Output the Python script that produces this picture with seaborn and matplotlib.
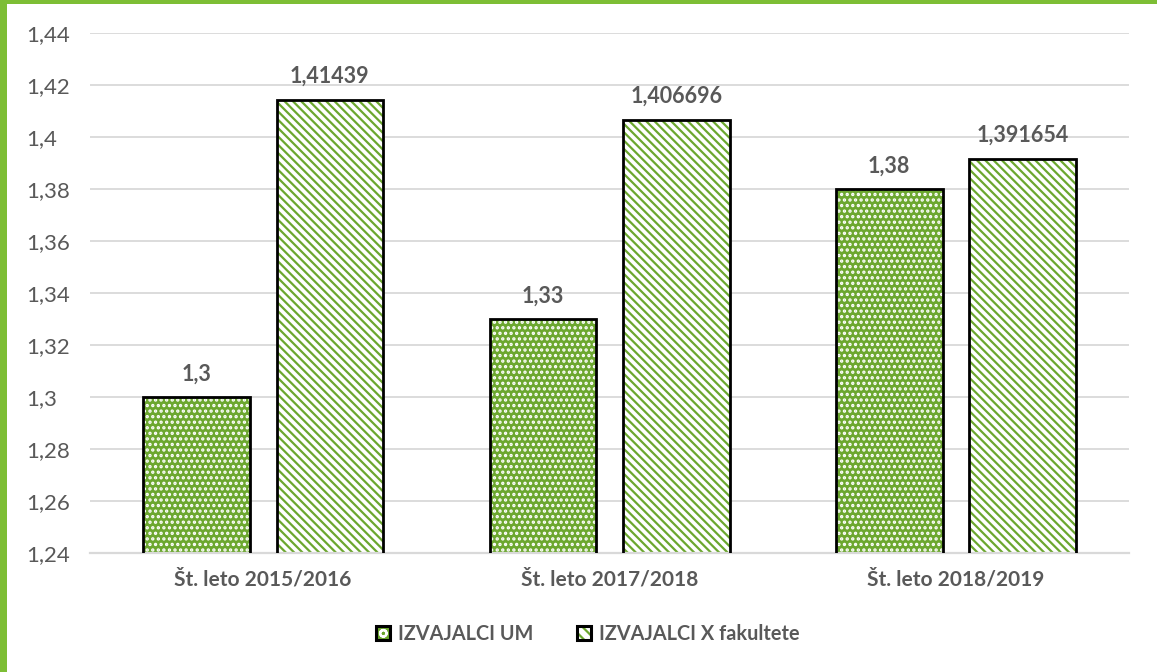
from matplotlib import pyplot as plt
from matplotlib.patches import Patch, Rectangle
import pandas as pd
import seaborn as sns

# data
leta = ["Št. leto 2015/2016", "Št. leto 2017/2018", "Št. leto 2018/2019"]
serije = ["IZVAJALCI UM", "IZVAJALCI X fakultete"]
izvajalci_um = [1.3, 1.33, 1.38]
izvajalci_fak = [1.41439, 1.406696, 1.391654]
y_ticks = [1.24, 1.26, 1.28, 1.30, 1.32, 1.34, 1.36, 1.38, 1.40, 1.42, 1.44]

GREEN = "#6CA72F"
BORDER = "#7DBE35"
TEXT = "#595959"
GRID = "#D9D9D9"

df = pd.DataFrame({
    "leto": leta * 2,
    "serija": [serije[0]] * 3 + [serije[1]] * 3,
    "vrednost": izvajalci_um + izvajalci_fak,
})


def fmt(v):
    # excel "general" format with decimal comma
    return str(round(v, 6)).replace(".", ",")


sns.set_theme(style="white")
plt.rcParams["font.family"] = ["Lato", "DejaVu Sans"]
plt.rcParams["hatch.linewidth"] = 1.6

fig, ax = plt.subplots(figsize=(11.57, 6.72), dpi=100)
fig.subplots_adjust(left=0.0778, right=0.9758, top=0.951, bottom=0.177)

sns.barplot(data=df, x="leto", y="vrednost", hue="serija", order=leta,
            hue_order=serije, palette=[GREEN, "white"], width=0.77, gap=0.2,
            legend=False, ax=ax, zorder=2)

styles = [
    dict(facecolor=GREEN, edgecolor="white", hatch="..."),
    dict(facecolor="white", edgecolor=GREEN, hatch="\\\\\\\\"),
]
for cont, st in zip(ax.containers, styles):
    for bar in cont:
        bar.set_facecolor(st["facecolor"])
        bar.set_edgecolor(st["edgecolor"])
        bar.set_hatch(st["hatch"])
        bar.set_linewidth(0)
        ax.add_patch(Rectangle(bar.get_xy(), bar.get_width(), bar.get_height(),
                               fill=False, edgecolor="black", linewidth=2.0, zorder=3))
    ax.bar_label(cont, labels=[fmt(b.get_height()) for b in cont], padding=9,
                 fontsize=15.5, fontweight="bold", color=TEXT)

ax.set_ylim(1.24, 1.44)
ax.set_yticks(y_ticks)
ax.set_yticklabels([fmt(v) for v in y_ticks])
ax.grid(axis="y", color=GRID, linewidth=1.3, zorder=0)
ax.set_axisbelow(True)
for s in ["left", "top", "right"]:
    ax.spines[s].set_visible(False)
ax.spines["bottom"].set_color(GRID)
ax.spines["bottom"].set_linewidth(1.6)
ax.tick_params(axis="y", length=0, pad=46, labelsize=16, labelcolor=TEXT)
for lab in ax.get_yticklabels():
    lab.set_horizontalalignment("left")
ax.tick_params(axis="x", length=0, pad=12, labelsize=15, labelcolor=TEXT)
for lab in ax.get_xticklabels():
    lab.set_fontweight("bold")
ax.set_xlabel("")
ax.set_ylabel("")

# legend keys: hatched fill with a black outline on top
handles = [
    (Patch(facecolor=GREEN, edgecolor="white", hatch="o", linewidth=0),
     Patch(facecolor="none", edgecolor="black", linewidth=2.2)),
    (Patch(facecolor="white", edgecolor=GREEN, hatch="\\\\\\", linewidth=0),
     Patch(facecolor="none", edgecolor="black", linewidth=2.2)),
]
leg = fig.legend(handles, serije, loc="center", bbox_to_anchor=(0.508, 0.057), ncol=2,
                 frameon=False, handlelength=0.7, handleheight=0.7,
                 handletextpad=0.4, columnspacing=2.2,
                 prop={"size": 14.3, "weight": "bold"})
for t in leg.get_texts():
    t.set_color(TEXT)

# green frame strips on left and top
fig.patches.append(Rectangle((0, 0), 7 / 1157, 1, transform=fig.transFigure,
                             facecolor=BORDER, edgecolor="none", zorder=10))
fig.patches.append(Rectangle((0, 1 - 4 / 672), 1, 4 / 672, transform=fig.transFigure,
                             facecolor=BORDER, edgecolor="none", zorder=10))

plt.savefig("out.png", dpi=100)
